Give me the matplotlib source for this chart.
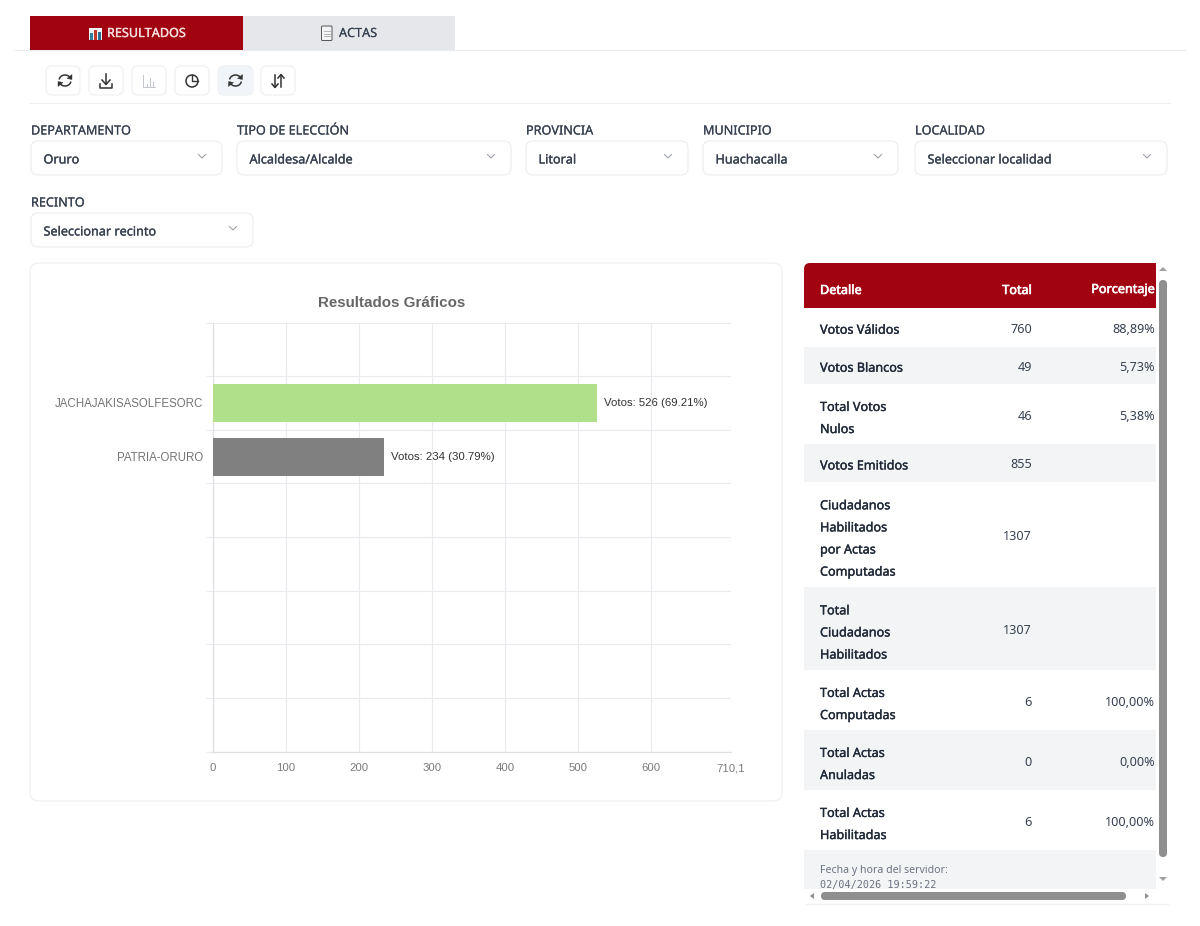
# -*- coding: utf-8 -*-
import matplotlib
matplotlib.use("Agg")
import matplotlib.pyplot as plt
import matplotlib.patheffects as pe
from matplotlib.patches import FancyBboxPatch, Rectangle, Arc, Polygon, Circle

W, H = 1200, 926
UI = "Noto Sans"
CHART = "Liberation Sans"
RED = "#a10410"

# chart data
parties = ["", "JACHAJAKISASOLFESORC", "PATRIA-ORURO", "", "", "", "", ""]
votes = [0, 526, 234, 0, 0, 0, 0, 0]
shares = [None, 69.21, 30.79, None, None, None, None, None]
bar_colors = ["#b0e08a", "#b0e08a", "#808080", "#808080", "#808080", "#808080", "#808080", "#808080"]
x_ticks = [0, 100, 200, 300, 400, 500, 600, 710.1]
x_labels = ["0", "100", "200", "300", "400", "500", "600", "710,1"]

# table data
detail = ["Votos Válidos", "Votos Blancos", "Total Votos\nNulos", "Votos Emitidos",
          "Ciudadanos\nHabilitados\npor Actas\nComputadas", "Total\nCiudadanos\nHabilitados",
          "Total Actas\nComputadas", "Total Actas\nAnuladas", "Total Actas\nHabilitadas"]
totals = ["760", "49", "46", "855", "1307", "1307", "6", "0", "6"]
percents = ["88,89%", "5,73%", "5,38%", "", "", "", "100,00%", "0,00%", "100,00%"]
row_edges = [308, 346.5, 384, 444, 482, 587, 670, 730, 790, 850]

# filters
filter_names = ["DEPARTAMENTO", "TIPO DE ELECCIÓN", "PROVINCIA", "MUNICIPIO", "LOCALIDAD", "RECINTO"]
filter_values = ["Oruro", "Alcaldesa/Alcalde", "Litoral", "Huachacalla", "Seleccionar localidad", "Seleccionar recinto"]
filter_left = [31, 237, 526, 703, 915, 31]
filter_right = [222, 511, 688, 898, 1167, 253]
filter_top = [141, 141, 141, 141, 141, 213]

fig = plt.figure(figsize=(12, 9.26), dpi=100, facecolor="white")
page = fig.add_axes([0, 0, 1, 1])
page.set_xlim(0, W)
page.set_ylim(H, 0)
page.axis("off")


def box(x0, y0, x1, y1, fc="white", ec="#e5e7eb", r=6, lw=1, z=1):
    page.add_patch(FancyBboxPatch((x0 + r, y0 + r), x1 - x0 - 2 * r, y1 - y0 - 2 * r,
                                  boxstyle="round,pad=%d,rounding_size=%d" % (r, r),
                                  fc=fc, ec=ec, lw=lw, zorder=z))


# the installed Noto Sans has one weight, so a thin stroke gives the medium/bold look
def label(x, y, s, size=9.1, color="#1f2937", stroke=0.0, ha="left", family=UI, **kw):
    t = page.text(x, y, s, fontsize=size, color=color, ha=ha, va="center",
                  family=family, zorder=5, **kw)
    if stroke > 0:
        t.set_path_effects([pe.withStroke(linewidth=stroke, foreground=color)])
    return t


def chevron(x, y):
    page.plot([x - 3.5, x, x + 3.5], [y - 2, y + 1.5, y - 2], color="#a0a4ab", lw=0.8, zorder=5)


def refresh_icon(x, y, c="#333333"):
    page.add_patch(Arc((x, y), 12, 11, theta1=190, theta2=330, color=c, lw=1.1, zorder=5))
    page.add_patch(Arc((x, y), 12, 11, theta1=10, theta2=150, color=c, lw=1.1, zorder=5))
    page.add_patch(Polygon([[x + 7, y - 6], [x + 7, y - 1], [x + 2, y - 2]], fc=c, ec=c, lw=0.3, zorder=5))
    page.add_patch(Polygon([[x - 7, y + 6], [x - 7, y + 1], [x - 2, y + 2]], fc=c, ec=c, lw=0.3, zorder=5))


# tabs
page.plot([15, 1185], [49.5, 49.5], color="#e8ecf0", lw=0.8, zorder=1)
page.add_patch(Rectangle((30, 16), 213, 34, fc=RED, ec="none", zorder=2))
page.add_patch(Rectangle((243, 16), 212, 34, fc="#e5e7eb", ec="none", zorder=2))
label(107, 33.5, "RESULTADOS", color="#f6dede", stroke=0.25)
label(339, 33.5, "ACTAS", color="#374151", stroke=0.1)
# tab icons
page.add_patch(Rectangle((89, 28), 13, 12, fc="#eef2f5", ec="none", zorder=4))
for bx, bt, bc in [(90, 33, "#2a7f9e"), (94, 30, "#c0392b"), (98, 32, "#2a6f8e")]:
    page.add_patch(Rectangle((bx, bt), 3, 40 - bt, fc=bc, ec="none", zorder=5))
box(321.5, 26, 332, 40.5, fc="#f3f4f6", ec="#555555", r=1, lw=0.7, z=4)
for ly in (31, 33.5, 36):
    page.plot([324, 330], [ly, ly], color="#999999", lw=0.5, zorder=5)

# toolbar buttons
btn_left = [46, 89, 132, 175, 218, 261]
btn_right = [80, 123, 166, 209, 253, 295]
btn_fill = ["white", "white", "white", "white", "#f1f5f9", "white"]
for i in range(6):
    box(btn_left[i], 66, btn_right[i], 95, fc=btn_fill[i], ec="#f0f1f3", r=6)
page.plot([30, 1170], [102.5, 102.5], color="#eceef0", lw=0.8, zorder=1)
refresh_icon(65, 80.5)
# download
page.plot([106, 106], [74, 84], color="#333333", lw=1.1, zorder=5)
page.plot([102, 106, 110], [80, 84.5, 80], color="#333333", lw=1.1, zorder=5)
page.plot([100, 100, 112, 112], [84, 87.5, 87.5, 84], color="#333333", lw=1.1, zorder=5)
# disabled bar chart
page.plot([143, 143, 155], [75, 87, 87], color="#c4c8ce", lw=0.7, zorder=5)
for bx, bt in [(146.5, 84), (149.5, 78), (152.5, 82)]:
    page.plot([bx, bx], [bt, 86], color="#c4c8ce", lw=0.8, zorder=5)
# pie
page.add_patch(Circle((192, 81), 6, fc="none", ec="#333333", lw=1.1, zorder=5))
page.plot([192, 192, 198], [75, 81, 81], color="#333333", lw=1.0, zorder=5)
refresh_icon(235.5, 80.5)
# sort arrows
page.plot([275, 275], [75, 87], color="#333333", lw=1.1, zorder=5)
page.plot([272, 275, 278], [84, 87.5, 84], color="#333333", lw=1.1, zorder=5)
page.plot([281, 281], [75, 87], color="#333333", lw=1.1, zorder=5)
page.plot([278, 281, 284], [78, 74.5, 78], color="#333333", lw=1.1, zorder=5)

# filters
for i in range(len(filter_names)):
    top = filter_top[i]
    label(filter_left[i], top - 10, filter_names[i], color="#374151", stroke=0.12)
    box(filter_left[i], top, filter_right[i], top + 34, ec="#eceef0", r=7, lw=0.9)
    label(filter_left[i] + 12.5, top + 19, filter_values[i], color="#374151", stroke=0.2)
    chevron(filter_right[i] - 20, top + 15.5)

# chart card
box(30, 263, 782, 801, fc="white", ec="#f0f1f3", r=9, lw=1.0)
label(392, 303, "Resultados Gráficos", size=10.9, color="#666666", ha="center", family=CHART, fontweight="bold")

# chart
ax = fig.add_axes([213 / W, 1 - 751.5 / H, (731 - 213) / W, (751.5 - 322.5) / H], zorder=3)
ax.patch.set_alpha(0)
ypos = list(range(len(parties)))
ax.barh(ypos, votes, height=0.71, color=bar_colors, zorder=3)
ax.set_xlim(0, 710.1)
ax.set_ylim(len(parties) - 0.5, -0.5)
ax.set_xticks(x_ticks)
ax.set_xticklabels(x_labels, family=CHART, fontsize=8.2, color="#7b7b7b")
ax.set_yticks([y - 0.5 for y in ypos] + [len(parties) - 0.5])
ax.set_yticklabels([])
ax.set_yticks(ypos, minor=True)
ax.set_yticklabels(parties, minor=True, family=CHART, fontsize=8.3, color="#757575")
ax.tick_params(axis="y", which="minor", length=0, pad=7.2)
ax.tick_params(axis="y", which="major", length=5, color="#e9eaee", width=0.8)
ax.tick_params(axis="x", length=0, pad=8.5)
ax.grid(True, which="major", color="#e9eaee", lw=0.8, zorder=0)
for side in ["top", "right"]:
    ax.spines[side].set_visible(False)
ax.spines["left"].set_color("#dfe0e3")
ax.spines["bottom"].set_color("#dfe0e3")
ax.spines["left"].set_linewidth(0.9)
ax.spines["bottom"].set_linewidth(0.9)
for y in ypos:
    if votes[y] > 0:
        ax.text(votes[y] + 10, y, "Votos: %d (%.2f%%)" % (votes[y], shares[y]), family=CHART,
                fontsize=8.2, color="#333333", va="center", zorder=5)

# table
box(804, 263, 1156, 300, fc=RED, ec="none", r=6, lw=0, z=2)
page.add_patch(Rectangle((804, 280), 352, 28, fc=RED, ec="none", zorder=2))
page.add_patch(Rectangle((1140, 263), 16, 20, fc=RED, ec="none", zorder=2))
label(820, 290.5, "Detalle", color="white", stroke=0.45)
label(1032, 290.5, "Total", color="white", stroke=0.45, ha="right")
label(1155, 289.5, "Porcentaje", color="white", stroke=0.45, ha="right")
for i in range(len(detail)):
    y0, y1 = row_edges[i], row_edges[i + 1]
    if i % 2 == 1:
        page.add_patch(Rectangle((804, y0), 352, y1 - y0, fc="#f3f4f6", ec="none", zorder=2))
    mid = (y0 + y1) / 2
    offset = 4.5 if "\n" in detail[i] else 3
    t = page.text(820, mid + offset, detail[i], fontsize=9.1, color="#1f2937", family=UI,
                  va="center", ha="left", linespacing=1.91, zorder=5)
    t.set_path_effects([pe.withStroke(linewidth=0.25, foreground="#1f2937")])
    label(1032, mid + 2, totals[i], color="#374151", ha="right")
    label(1155, mid + 2, percents[i], color="#374151", ha="right")

page.add_patch(Rectangle((804, 850), 352, 39, fc="#f3f4f6", ec="none", zorder=2))
label(820, 870, "Fecha y hora del servidor:", size=7.6, color="#6b7280")
label(820, 885, "02/04/2026 19:59:22", size=7.3, color="#6b7280", family="DejaVu Sans Mono")

# scrollbars
page.add_patch(Rectangle((804, 889), 364, 15, fc="white", ec="none", zorder=6))
box(1159, 280, 1167, 857, fc="#8f8f8f", ec="none", r=4, lw=0, z=7)
page.add_patch(Polygon([[1159, 271], [1167, 271], [1163, 267]], fc="#a0a0a0", ec="none", zorder=7))
page.add_patch(Polygon([[1159, 877], [1167, 877], [1163, 881]], fc="#a0a0a0", ec="none", zorder=7))
box(821, 892, 1126, 900, fc="#8f8f8f", ec="none", r=4, lw=0, z=7)
page.add_patch(Polygon([[814, 893], [814, 899], [810, 896]], fc="#8f8f8f", ec="none", zorder=7))
page.add_patch(Polygon([[1145, 893], [1145, 899], [1149, 896]], fc="#8f8f8f", ec="none", zorder=7))
page.plot([806, 1168], [904, 904], color="#f0f1f3", lw=1, zorder=7)

fig.savefig("out.png", dpi=100)
